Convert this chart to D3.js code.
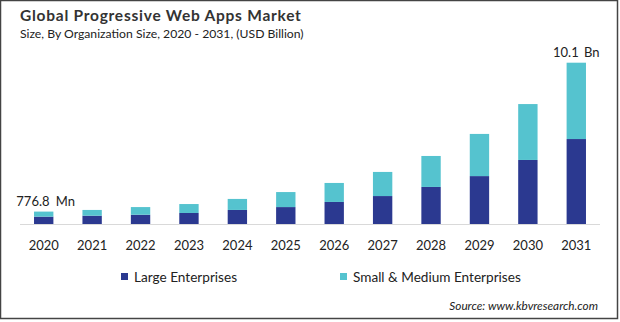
<!DOCTYPE html>
<html>
<head>
<meta charset="utf-8">
<script src="https://cdn.jsdelivr.net/npm/d3@7"></script>
<style>
  body { margin: 0; background: #fff; }
  svg text { font-family: Lato, "Open Sans", sans-serif; fill: #222; }
</style>
</head>
<body>
<div id="app"></div>
<script>
const years = ["2020","2021","2022","2023","2024","2025","2026","2027","2028","2029","2030","2031"];
const largeEnt = [0.46, 0.52, 0.58, 0.69, 0.88, 1.06, 1.38, 1.75, 2.32, 3.0, 4.01, 5.32];
const smeEnt = [0.3168, 0.36, 0.48, 0.56, 0.69, 0.94, 1.19, 1.51, 1.94, 2.64, 3.5, 4.78];
const seriesNames = ["Large Enterprises", "Small & Medium Enterprises"];
const colors = ["#2b3990", "#55c3cf"];

const width = 620, height = 322;
const svg = d3.select("#app").append("svg")
  .attr("width", width)
  .attr("height", height);

// frame
svg.append("rect")
  .attr("x", 0.5).attr("y", 0.5)
  .attr("width", 617).attr("height", 318)
  .style("fill", "none")
  .style("stroke", "#444")
  .style("stroke-width", 1.5);

svg.append("text")
  .attr("x", 20).attr("y", 21)
  .style("font-size", "15.5px")
  .style("font-weight", "bold")
  .style("letter-spacing", "0.75px")
  .style("fill", "#333")
  .text("Global Progressive Web Apps Market");

svg.append("text")
  .attr("x", 20).attr("y", 38)
  .style("font-size", "12.2px")
  .text("Size, By Organization Size, 2020 - 2031, (USD Billion)");

const baseY = 224;
const x = d3.scaleBand()
  .domain(years)
  .range([19.5, 600.5])
  .paddingInner(0.6)
  .paddingOuter(0.3);

const y = d3.scaleLinear()
  .domain([0, 10.1])
  .range([baseY, 62.7]);

const rows = years.map((yr, i) => ({ year: yr, large: largeEnt[i], sme: smeEnt[i] }));
const stacked = d3.stack().keys(["large", "sme"])(rows);

svg.append("g")
  .selectAll("g")
  .data(stacked)
  .join("g")
  .style("fill", (d, i) => colors[i])
  .selectAll("rect")
  .data(d => d)
  .join("rect")
  .attr("x", d => x(d.data.year))
  .attr("width", x.bandwidth())
  .attr("y", d => y(d[1]))
  .attr("height", d => y(d[0]) - y(d[1]));

// baseline
svg.append("line")
  .attr("x1", 20).attr("x2", 600)
  .attr("y1", baseY + 0.5).attr("y2", baseY + 0.5)
  .style("stroke", "#d9d9d9")
  .style("stroke-width", 1);

const xAxis = svg.append("g")
  .attr("transform", `translate(0,${baseY})`)
  .call(d3.axisBottom(x).tickSize(0).tickPadding(17));
xAxis.select(".domain").remove();
xAxis.selectAll("text")
  .style("font-size", "13px")
  .style("font-family", "Lato, 'Open Sans', sans-serif")
  .style("fill", "#222");

// end labels
const totals = rows.map(d => d.large + d.sme);
svg.append("text")
  .attr("x", x(years[0]) + x.bandwidth() / 2 + 2)
  .attr("y", y(totals[0]) - 6)
  .attr("text-anchor", "middle")
  .style("font-size", "13px")
  .style("word-spacing", "3px")
  .text("776.8 Mn");

svg.append("text")
  .attr("x", x(years[11]) + x.bandwidth() / 2)
  .attr("y", y(totals[11]) - 6)
  .attr("text-anchor", "middle")
  .style("font-size", "13px")
  .style("word-spacing", "2px")
  .text("10.1 Bn");

// legend
const legendX = [121, 340];
const legend = svg.append("g")
  .selectAll("g")
  .data(seriesNames)
  .join("g")
  .attr("transform", (d, i) => `translate(${legendX[i]},277)`);

legend.append("rect")
  .attr("x", 0).attr("y", -4)
  .attr("width", 7).attr("height", 7)
  .style("fill", (d, i) => colors[i]);

legend.append("text")
  .attr("x", 13).attr("y", 4.5)
  .style("font-size", "13.6px")
  .text(d => d);

svg.append("text")
  .attr("x", 598).attr("y", 310)
  .attr("text-anchor", "end")
  .style("font-size", "11.8px")
  .style("font-style", "italic")
  .text("Source: www.kbvresearch.com");
</script>
</body>
</html>
